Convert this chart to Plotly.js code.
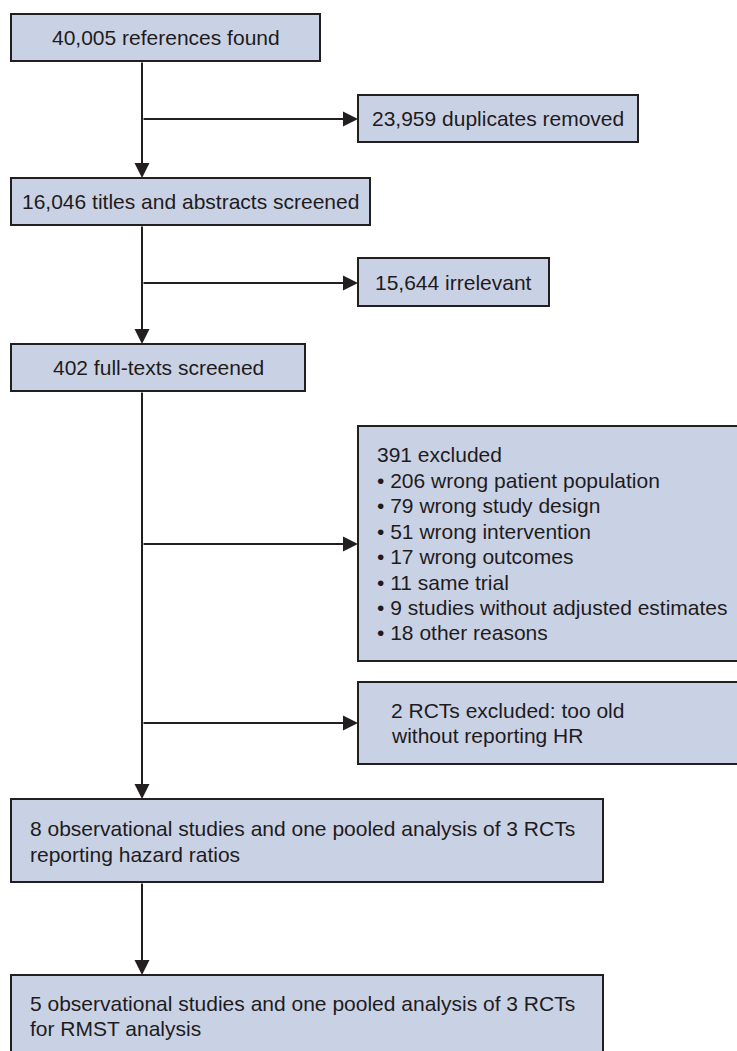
<!DOCTYPE html>
<html>
<head>
<meta charset="utf-8">
<script src="https://cdn.plot.ly/plotly-3.0.1.min.js"></script>
<style>
  html, body { margin: 0; padding: 0; background: #ffffff; }
  #chart { width: 737px; height: 1051px; }
</style>
</head>
<body>
<div id="chart"></div>
<script>
// ---- Flowchart content (text of each box) ----
const mainStages = [
  ['40,005 references found'],
  ['16,046 titles and abstracts screened'],
  ['402 full-texts screened'],
  ['8 observational studies and one pooled analysis of 3 RCTs', 'reporting hazard ratios'],
  ['5 observational studies and one pooled analysis of 3 RCTs', 'for RMST analysis']
];
const sideExclusions = [
  ['23,959 duplicates removed'],
  ['15,644 irrelevant'],
  ['391 excluded',
   '\u2022 206 wrong patient population',
   '\u2022 79 wrong study design',
   '\u2022 51 wrong intervention',
   '\u2022 17 wrong outcomes',
   '\u2022 11 same trial',
   '\u2022 9 studies without adjusted estimates',
   '\u2022 18 other reasons'],
  ['2 RCTs excluded: too old', 'without reporting HR']
];

// ---- Layout geometry (pixel space of the figure) ----
const mainBoxes = [
  {x0: 11, x1: 320, y0: 14,  y1: 61,  align: 'center'},
  {x0: 11, x1: 370, y0: 178, y1: 225, align: 'center'},
  {x0: 11, x1: 305, y0: 344, y1: 391, align: 'center'},
  {x0: 11, x1: 603, y0: 799, y1: 882, align: 'left', tx: 28, ty: [828, 854]},
  {x0: 11, x1: 603, y0: 975, y1: 1062, align: 'left', tx: 28, ty: [1003, 1028]}
];
const sideBoxes = [
  {x0: 358, x1: 638, y0: 95,  y1: 142, ay: 119, align: 'center'},
  {x0: 358, x1: 549, y0: 258, y1: 306, ay: 283, align: 'center'},
  {x0: 358, x1: 745, y0: 426, y1: 661, ay: 544, align: 'left', tx: 375,
   ty: [454, 480, 505, 531, 556, 582, 607, 632]},
  {x0: 358, x1: 745, y0: 682, y1: 764, ay: 723, align: 'left', tx: 389, ty: [710, 735]}
];
const spineX = 142;

const FILL = '#c9d2e5';
const EDGE = '#231f20';
const TEXT = '#1f1b1c';
const FONT = {family: 'Liberation Sans, Arial, Helvetica, sans-serif', size: 21, color: TEXT};

const shapes = [];
const annotations = [];

function addBox(b, lines) {
  shapes.push({type: 'rect', xref: 'x', yref: 'y', x0: b.x0, x1: b.x1, y0: b.y0, y1: b.y1,
    fillcolor: FILL, line: {color: EDGE, width: 2}, layer: 'below'});
  if (b.align === 'center') {
    annotations.push({xref: 'x', yref: 'y', x: (b.x0 + b.x1) / 2, y: (b.y0 + b.y1) / 2,
      text: lines.join('<br>'), showarrow: false, xanchor: 'center', yanchor: 'middle', font: FONT});
  } else {
    lines.forEach((t, i) => {
      annotations.push({xref: 'x', yref: 'y', x: b.tx, y: b.ty[i], text: t, showarrow: false,
        xanchor: 'left', yanchor: 'middle', font: FONT});
    });
  }
}
mainBoxes.forEach((b, i) => addBox(b, mainStages[i]));
sideBoxes.forEach((b, i) => addBox(b, sideExclusions[i]));

function addArrow(xs, ys, xe, ye) {
  annotations.push({xref: 'x', yref: 'y', axref: 'x', ayref: 'y', x: xe, y: ye, ax: xs, ay: ys,
    text: '', showarrow: true, arrowhead: 2, arrowsize: 1.5, arrowwidth: 2, arrowcolor: EDGE,
    standoff: 0, startstandoff: 0});
}
// vertical arrows between main boxes
for (let i = 0; i < mainBoxes.length - 1; i++) {
  addArrow(spineX, mainBoxes[i].y1, spineX, mainBoxes[i + 1].y0);
}
// horizontal arrows to side boxes
sideBoxes.forEach(b => addArrow(spineX, b.ay, b.x0, b.ay));

const layout = {
  width: 737, height: 1051,
  margin: {l: 0, r: 0, t: 0, b: 0},
  paper_bgcolor: '#ffffff', plot_bgcolor: '#ffffff',
  showlegend: false,
  xaxis: {range: [0, 737], visible: false, fixedrange: true},
  yaxis: {range: [1051, 0], visible: false, fixedrange: true},
  shapes: shapes,
  annotations: annotations
};
Plotly.newPlot('chart', [], layout, {staticPlot: true, displayModeBar: false});
</script>
</body>
</html>
